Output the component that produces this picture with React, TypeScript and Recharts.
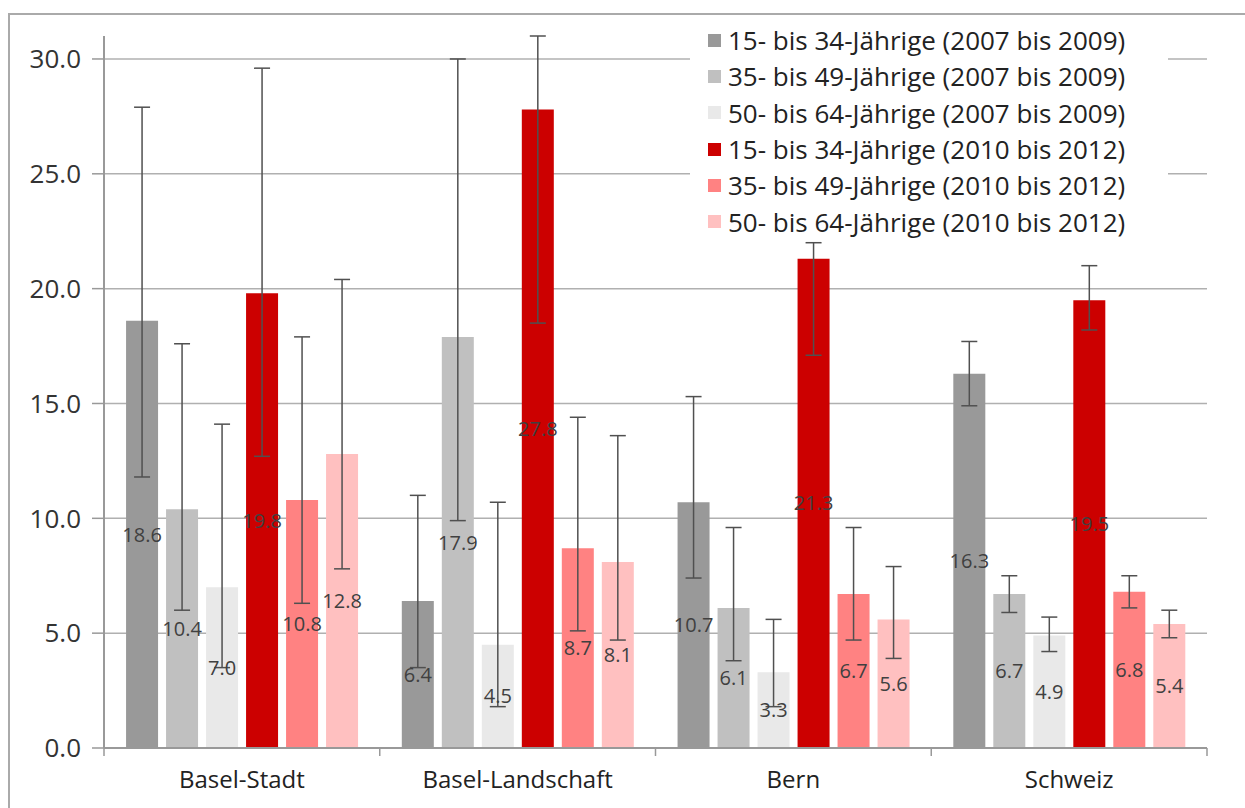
import React from 'react';
import {
  BarChart,
  Bar,
  XAxis,
  YAxis,
  CartesianGrid,
  ErrorBar,
  LabelList,
} from 'recharts';

// categories
const categories = ['Basel-Stadt', 'Basel-Landschaft', 'Bern', 'Schweiz'];

// series names
const seriesNames = [
  '15- bis 34-Jährige (2007 bis 2009)',
  '35- bis 49-Jährige (2007 bis 2009)',
  '50- bis 64-Jährige (2007 bis 2009)',
  '15- bis 34-Jährige (2010 bis 2012)',
  '35- bis 49-Jährige (2010 bis 2012)',
  '50- bis 64-Jährige (2010 bis 2012)',
];

const seriesColors = ['#999999', '#c0c0c0', '#e9e9e9', '#cc0000', '#ff8282', '#ffc0c0'];

// values per series (one value per category)
const young0709 = [18.6, 6.4, 10.7, 16.3];
const mid0709 = [10.4, 17.9, 6.1, 6.7];
const old0709 = [7.0, 4.5, 3.3, 4.9];
const young1012 = [19.8, 27.8, 21.3, 19.5];
const mid1012 = [10.8, 8.7, 6.7, 6.8];
const old1012 = [12.8, 8.1, 5.6, 5.4];

// confidence interval bounds
const young0709Low = [11.8, 3.5, 7.4, 14.9];
const young0709High = [27.9, 11.0, 15.3, 17.7];
const mid0709Low = [6.0, 9.9, 3.8, 5.9];
const mid0709High = [17.6, 30.0, 9.6, 7.5];
const old0709Low = [3.5, 1.8, 1.8, 4.2];
const old0709High = [14.1, 10.7, 5.6, 5.7];
const young1012Low = [12.7, 18.5, 17.1, 18.2];
const young1012High = [29.6, 31.0, 22.0, 21.0];
const mid1012Low = [6.3, 5.1, 4.7, 6.1];
const mid1012High = [17.9, 14.4, 9.6, 7.5];
const old1012Low = [7.8, 4.7, 3.9, 4.8];
const old1012High = [20.4, 13.6, 7.9, 6.0];

const yTicks = [0, 5, 10, 15, 20, 25, 30];

const seriesValues = [young0709, mid0709, old0709, young1012, mid1012, old1012];
const seriesLows = [young0709Low, mid0709Low, old0709Low, young1012Low, mid1012Low, old1012Low];
const seriesHighs = [young0709High, mid0709High, old0709High, young1012High, mid1012High, old1012High];

const data = categories.map((name, i) => {
  const row: any = { name };
  seriesValues.forEach((vals, s) => {
    row[`s${s}`] = vals[i];
    row[`e${s}`] = [vals[i] - seriesLows[s][i], seriesHighs[s][i] - vals[i]];
  });
  return row;
});

const FONT = '"Open Sans", "Noto Sans", sans-serif';

const CategoryTick = (props: any) => {
  const { x, y, payload, index } = props;
  const half = payload && payload.offset ? payload.offset : 138;
  return (
    <g>
      <line x1={x - half} y1={y} x2={x - half} y2={y + 8} stroke="#999" strokeWidth={1.5} />
      {index === categories.length - 1 && (
        <line x1={x + half} y1={y} x2={x + half} y2={y + 8} stroke="#999" strokeWidth={1.5} />
      )}
      <text x={x} y={y + 40} textAnchor="middle" fill="#222" fontSize={24} fontFamily={FONT}>
        {payload.value}
      </text>
    </g>
  );
};

export default function App() {
  return (
    <div
      style={{
        position: 'absolute',
        left: 8,
        top: 13,
        width: 1237,
        height: 795,
        borderTop: '2px solid #aaa',
        borderLeft: '2px solid #aaa',
        background: '#fff',
        fontFamily: FONT,
      }}
    >
      <BarChart
        width={1230}
        height={790}
        data={data}
        margin={{ top: 21, right: 33, left: 0, bottom: 0 }}
        barCategoryGap="8%"
        barGap={8}
      >
        <CartesianGrid
          vertical={false}
          stroke="#b0b0b0"
          strokeWidth={1.5}
          syncWithTicks
          horizontalValues={yTicks}
        />
        <XAxis
          dataKey="name"
          height={57}
          axisLine={{ stroke: '#999', strokeWidth: 2 }}
          tickLine={false}
          tickSize={0}
          tickMargin={0}
          tick={<CategoryTick />}
          interval={0}
        />
        <YAxis
          width={94}
          domain={[0, 31]}
          ticks={yTicks}
          allowDataOverflow
          axisLine={{ stroke: '#999', strokeWidth: 2 }}
          tickLine={{ stroke: '#999', strokeWidth: 1.5 }}
          tickSize={12}
          tickMargin={11}
          tickFormatter={(v: number) => v.toFixed(1)}
          tick={{ fill: '#333', fontSize: 26, fontFamily: FONT }}
        />
        {seriesNames.map((n, s) => (
          <Bar key={n} dataKey={`s${s}`} name={n} fill={seriesColors[s]} isAnimationActive={false}>
            <LabelList
              dataKey={`s${s}`}
              position="center"
              formatter={(v: any) => Number(v).toFixed(1)}
              fill="#404040"
              fontSize={20}
              fontFamily={FONT}
            />
            <ErrorBar dataKey={`e${s}`} width={8} stroke="#505050" strokeWidth={1.5} />
          </Bar>
        ))}
      </BarChart>

      {/* legend box over the grid */}
      <div
        style={{
          position: 'absolute',
          left: 680,
          top: 7,
          width: 478,
          background: '#fff',
          paddingLeft: 18,
          boxSizing: 'border-box',
        }}
      >
        {seriesNames.map((n, s) => (
          <div key={n} style={{ height: 36.3, display: 'flex', alignItems: 'center' }}>
            <span
              style={{
                width: 13,
                height: 13,
                flex: 'none',
                background: seriesColors[s],
                display: 'inline-block',
                marginRight: 7,
              }}
            />
            <span style={{ fontSize: 26, color: '#222', whiteSpace: 'nowrap' }}>{n}</span>
          </div>
        ))}
      </div>
    </div>
  );
}
